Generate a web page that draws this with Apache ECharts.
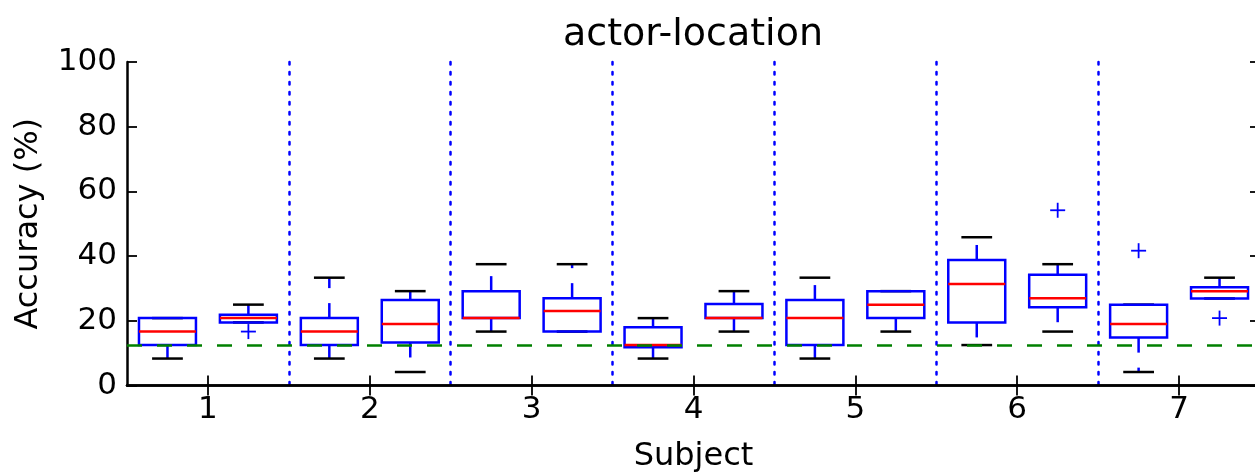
<!DOCTYPE html>
<html>
<head>
<meta charset="utf-8">
<script src="https://cdn.jsdelivr.net/npm/echarts@6/dist/echarts.min.js"></script>
<style>
html, body { margin: 0; padding: 0; background: #fff; }
#chart { width: 1255px; height: 475px; }
</style>
</head>
<body>
<div id="chart"></div>
<script>
// subjects on the x axis, two boxes per subject (left / right)
const subjects = ['1', '2', '3', '4', '5', '6', '7'];
const yTicks = [0, 20, 40, 60, 80, 100];
const chanceLevel = 12.5;

const boxSubject = [0, 0, 1, 1, 2, 2, 3, 3, 4, 4, 5, 5, 6, 6];
const boxSide = [-1, 1, -1, 1, -1, 1, -1, 1, -1, 1, -1, 1, -1, 1];
const whiskerLow = [8.33, 19.5, 8.33, 4.17, 16.67, 16.67, 8.33, 16.67, 8.33, 16.67, 12.5, 16.67, 4.17, 26.9];
const quart1 = [12.5, 19.5, 12.5, 13.3, 20.83, 16.67, 11.8, 20.83, 12.5, 20.83, 19.5, 24.2, 14.8, 26.9];
const medians = [16.67, 20.83, 16.67, 19.0, 20.83, 23.0, 12.5, 20.83, 20.83, 25.0, 31.4, 27.0, 19.0, 29.17];
const quart3 = [20.83, 21.9, 20.83, 26.4, 29.17, 27.0, 18.0, 25.2, 26.4, 29.17, 38.8, 34.2, 25.0, 30.4];
const whiskerHigh = [20.83, 25.0, 33.33, 29.17, 37.5, 37.5, 20.83, 29.17, 33.33, 29.17, 45.83, 37.5, 25.0, 33.33];

// outliers ("+" markers)
const flierSubject = [0, 5, 6, 6];
const flierSide = [1, 1, -1, 1];
const flierValue = [16.67, 54.17, 41.67, 20.83];

const font = 'DejaVu Sans';
const boxData = boxSubject.map((s, i) =>
  [s, boxSide[i], whiskerLow[i], quart1[i], medians[i], quart3[i], whiskerHigh[i]]);
const flierData = flierSubject.map((s, i) => [s, flierSide[i], flierValue[i]]);

function renderBox(params, api) {
  const band = api.size([1, 0])[0];
  const cat = api.value(0);
  const cx = api.coord([cat, 0])[0] + api.value(1) * 0.25 * band;
  const half = 0.176 * band;
  const capHalf = 0.095 * band;
  const y = (k) => api.coord([cat, api.value(k)])[1];
  const yLow = y(2), yQ1 = y(3), yMed = y(4), yQ3 = y(5), yHigh = y(6);
  const whisker = { stroke: '#0000ff', lineWidth: 2.5, lineDash: [15, 15] };
  const cap = { stroke: '#000', lineWidth: 2.5 };
  return {
    type: 'group',
    children: [
      { type: 'line', shape: { x1: cx, y1: yQ1, x2: cx, y2: yLow }, style: whisker },
      { type: 'line', shape: { x1: cx, y1: yQ3, x2: cx, y2: yHigh }, style: whisker },
      { type: 'line', shape: { x1: cx - capHalf, y1: yLow, x2: cx + capHalf, y2: yLow }, style: cap },
      { type: 'line', shape: { x1: cx - capHalf, y1: yHigh, x2: cx + capHalf, y2: yHigh }, style: cap },
      { type: 'rect', shape: { x: cx - half, y: yQ3, width: 2 * half, height: yQ1 - yQ3 },
        style: { fill: 'none', stroke: '#0000ff', lineWidth: 2.5 } },
      { type: 'line', shape: { x1: cx - half, y1: yMed, x2: cx + half, y2: yMed },
        style: { stroke: '#ff0000', lineWidth: 2.5 } }
    ]
  };
}

function renderFlier(params, api) {
  const band = api.size([1, 0])[0];
  const cat = api.value(0);
  const p = api.coord([cat, api.value(2)]);
  const cx = p[0] + api.value(1) * 0.25 * band;
  const r = 7.5;
  const st = { stroke: '#0000ff', lineWidth: 1.8 };
  return {
    type: 'group',
    children: [
      { type: 'line', shape: { x1: cx - r, y1: p[1], x2: cx + r, y2: p[1] }, style: st },
      { type: 'line', shape: { x1: cx, y1: p[1] - r, x2: cx, y2: p[1] + r }, style: st }
    ]
  };
}

const chart = echarts.init(document.getElementById('chart'));
const axisLine = { show: true, lineStyle: { color: '#000', width: 2.5 } };
const tick = { show: true, inside: true, length: 10, lineStyle: { color: '#000', width: 1.8 } };

chart.setOption({
  animation: false,
  grid: { left: 127, top: 62, width: 1133, bottom: 89.5, outerBoundsMode: 'none', containLabel: false },
  graphic: [{
    type: 'text', x: 693, y: 35,
    style: { text: 'actor-location', font: '38px "DejaVu Sans"', fill: '#000',
      align: 'center', verticalAlign: 'middle' }
  }],
  xAxis: [{
    type: 'category', data: subjects, boundaryGap: true, position: 'bottom',
    axisLine: axisLine,
    axisTick: Object.assign({}, tick, { alignWithLabel: true }),
    axisLabel: { color: '#000', fontSize: 31, fontFamily: font, margin: 9 },
    splitLine: { show: true, interval: (i) => i > 0,
      lineStyle: { color: '#0000ff', width: 2.5, type: [2.5, 7.5], cap: 'round' } },
    name: 'Subject', nameLocation: 'middle', nameGap: 55,
    nameTextStyle: { color: '#000', fontSize: 32, fontFamily: font }
  }, {
    type: 'category', data: subjects, boundaryGap: true, position: 'top',
    axisLine: axisLine,
    axisTick: Object.assign({}, tick, { alignWithLabel: true }),
    axisLabel: { show: false }, splitLine: { show: false }
  }],
  yAxis: [{
    type: 'value', min: yTicks[0], max: yTicks[yTicks.length - 1], interval: 20,
    axisLine: axisLine, axisTick: tick,
    axisLabel: { color: '#000', fontSize: 31, fontFamily: font, margin: 10 },
    splitLine: { show: false },
    name: 'Accuracy (%)', nameLocation: 'middle', nameGap: 82,
    nameTextStyle: { color: '#000', fontSize: 32, fontFamily: font }
  }, {
    type: 'value', position: 'right', min: yTicks[0], max: yTicks[yTicks.length - 1], interval: 20,
    axisLine: axisLine, axisTick: tick, axisLabel: { show: false }, splitLine: { show: false }
  }],
  series: [{
    type: 'custom', renderItem: renderBox, data: boxData,
    encode: { x: 0, y: [2, 3, 4, 5, 6] }, z: 3,
    markLine: {
      silent: true, symbol: 'none', label: { show: false }, z: 10,
      lineStyle: { color: '#008000', width: 2.5, type: [15, 15] },
      data: [{ yAxis: chanceLevel }]
    }
  }, {
    type: 'custom', renderItem: renderFlier, data: flierData,
    encode: { x: 0, y: 2 }, z: 4
  }]
});
</script>
</body>
</html>
